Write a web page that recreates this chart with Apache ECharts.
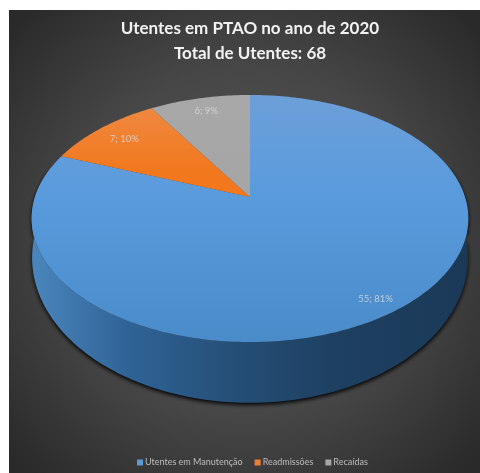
<!DOCTYPE html>
<html>
<head>
<meta charset="utf-8">
<style>html,body{margin:0;padding:0;background:#fff}#c{width:480px;height:473px}</style>
<script src="https://cdn.jsdelivr.net/npm/echarts@6/dist/echarts.min.js"></script>
</head>
<body>
<div id="c"></div>
<script>
const titleLines = ['Utentes em PTAO no ano de 2020', 'Total de Utentes: 68'];
const categories = ['Utentes em Manutenção', 'Readmissões', 'Recaídas'];
const values = [55, 7, 6];
const legendColors = ['#5b9bd5', '#ed7d31', '#a5a5a5'];

const total = values.reduce((a, b) => a + b, 0);

// Disc seen in perspective: the far rim is foreshortened, the hub sits above the rim's middle.
const hub = { x: 250, y: 197, a: 215, b: 119.8, k: 0.174 };
const topRim = { sx: 1, sy: 1, cy: hub.y };
const lowerRim = { sx: 0.998, sy: 1.174, cy: 232.5 };

function project(deg, r, ring) {
  const t = deg * Math.PI / 180;
  const u = Math.sin(t) * r, v = Math.cos(t) * r;
  const w = 1 + hub.k * v;
  return [hub.x + ring.sx * hub.a * u / w, ring.cy - ring.sy * hub.b * v / w];
}
function rim(from, to, ring) {
  const pts = [], n = Math.max(2, Math.ceil(Math.abs(to - from)));
  for (let i = 0; i <= n; i++) pts.push(project(from + (to - from) * i / n, 1, ring));
  return pts;
}
const faceFill = [
  [[0, '#6c9fd8'], [0.4, '#5a9bdd'], [1, '#4a8bca']],
  [[0, '#ee8c48'], [0.3, '#f2781e'], [1, '#f2761a']],
  [[0, '#a8a8a8'], [1, '#a0a0a0']]
];
const labelDepth = [0.9, 0.83, 0.85];

function vertical(stops) {
  return {
    type: 'linear', x: 0, y: 95, x2: 0, y2: 342, global: true,
    colorStops: stops.map(s => ({ offset: s[0], color: s[1] }))
  };
}

function sliceRenderer(index) {
  return function (params, api) {
    const value = api.value(0), start = api.value(1) / total * 360;
    const sweep = value / total * 360;
    const children = [];
    if (index === 0) {
      // Outer wall: front arc of the top rim joined to the front arc of the lower rim
      const pts = rim(75, 285, topRim).concat(rim(285, 75, lowerRim));
      children.push({
        type: 'polygon',
        shape: { points: pts },
        style: {
          fill: {
            type: 'linear', x: 32, y: 0, x2: 469, y2: 0, global: true,
            colorStops: [
              { offset: 0, color: '#4a86bd' }, { offset: 0.22, color: '#2f6396' },
              { offset: 0.5, color: '#244c73' }, { offset: 0.72, color: '#1d3f60' },
              { offset: 1, color: '#1b3957' }
            ]
          },
          shadowColor: '#000', shadowBlur: 4, shadowOffsetY: 2
        }
      });
    }
    const pts = [[hub.x, hub.y]].concat(rim(start, start + sweep, topRim));
    children.push({ type: 'polygon', shape: { points: pts }, style: { fill: vertical(faceFill[index]) } });
    const at = project(start + sweep / 2, labelDepth[index], topRim);
    children.push({
      type: 'text',
      style: {
        x: at[0], y: at[1],
        text: value + '; ' + Math.round(value / total * 100) + '%',
        fill: '#dcdcdc', font: '9.5px Lato', align: 'center', verticalAlign: 'middle', opacity: 0.8
      }
    });
    return { type: 'group', children };
  };
}

let running = 0;
const series = categories.map((name, i) => {
  const s = {
    type: 'custom', name, coordinateSystem: 'none', silent: true, animation: false,
    itemStyle: { color: legendColors[i] },
    data: [[values[i], running]],
    renderItem: sliceRenderer(i)
  };
  running += values[i];
  return s;
});

const chart = echarts.init(document.getElementById('c'), null, { renderer: 'canvas' });
chart.setOption({
  animation: false,
  backgroundColor: '#ffffff',
  graphic: [{
    type: 'rect', z: -10, silent: true,
    shape: { x: 9, y: 10, width: 471, height: 463 },
    style: {
      fill: {
        type: 'radial', x: 0.5, y: 0.5, r: 0.68,
        colorStops: [
          { offset: 0, color: '#565656' }, { offset: 0.55, color: '#474747' }, { offset: 1, color: '#2a2a2a' }
        ]
      }
    }
  }],
  title: {
    text: titleLines.join('\n'), left: 245, top: 11, textAlign: 'center',
    textStyle: { color: '#f2f2f2', fontFamily: 'Lato', fontWeight: 'bold', fontSize: 17, lineHeight: 25 }
  },
  legend: {
    data: categories, top: 453, left: 132, itemWidth: 6, itemHeight: 6, itemGap: 12,
    icon: 'rect', selectedMode: false,
    textStyle: { color: '#bdbdbd', fontFamily: 'Lato', fontSize: 9, padding: [0, 0, 0, -3] }
  },
  series
});
</script>
</body>
</html>
